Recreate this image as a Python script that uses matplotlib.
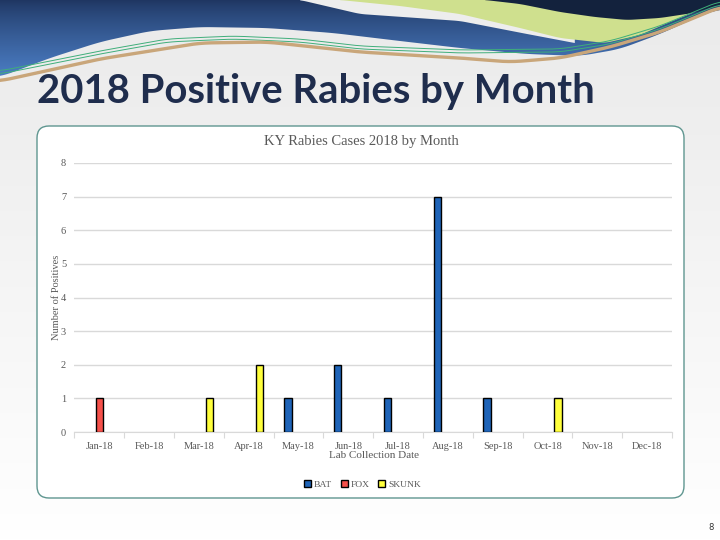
import numpy as np
import matplotlib
matplotlib.use("Agg")
import matplotlib.pyplot as plt
from matplotlib.patches import FancyBboxPatch, Polygon

# --- data -------------------------------------------------------------
months = ["Jan-18", "Feb-18", "Mar-18", "Apr-18", "May-18", "Jun-18",
          "Jul-18", "Aug-18", "Sep-18", "Oct-18", "Nov-18", "Dec-18"]
bat = [0, 0, 0, 0, 1, 2, 1, 7, 1, 0, 0, 0]
fox = [1, 0, 0, 0, 0, 0, 0, 0, 0, 0, 0, 0]
skunk = [0, 0, 1, 2, 0, 0, 0, 0, 0, 1, 0, 0]
series_names = ["BAT", "FOX", "SKUNK"]
series_colors = ["#1f64b8", "#f5504a", "#ffff3c"]

W, H = 720, 540
SERIF = ["Liberation Serif", "DejaVu Serif"]
GREY_TXT = "#595959"

fig = plt.figure(figsize=(W / 100, H / 100), dpi=100)

# --- slide background (pixel coords, y down) ---------------------------
bg = fig.add_axes([0, 0, 1, 1])
bg.set_xlim(0, W)
bg.set_ylim(H, 0)
bg.axis("off")

grad = np.interp(np.linspace(0, H, 256), [0, 120, 540], [0.92, 0.935, 1.0])[:, None] * np.ones((1, 4))
bg.imshow(np.dstack([grad, grad, grad]), extent=(0, W, H, 0), aspect="auto", zorder=0)


def smooth_curve(pts, n=720, k=12):
    xs = np.linspace(0, W, n)
    px, py = zip(*pts)
    ys = np.interp(xs, px, py)
    pad = np.pad(ys, k, mode="edge")
    ys = np.convolve(pad, np.ones(2 * k + 1) / (2 * k + 1), mode="same")[k:-k]
    return xs, ys


# blue wave, vertical gradient
bx, by = smooth_curve([(0, 77), (50, 58), (100, 42), (150, 31), (200, 27), (267, 28),
                       (333, 33), (400, 41), (460, 48), (527, 54), (580, 56),
                       (620, 49), (660, 34), (700, 16), (720, 9)])
blue_poly = Polygon(np.column_stack([np.r_[bx, W, 0], np.r_[by, 0, 0]]),
                    closed=True, facecolor="none", edgecolor="none")
bg.add_patch(blue_poly)
vg = np.linspace(0, 1, 256)[:, None] ** 0.8
blue_img = np.dstack([0.12 + 0.18 * vg, 0.21 + 0.29 * vg, 0.38 + 0.40 * vg])
im = bg.imshow(blue_img, extent=(0, W, 80, 0), aspect="auto", zorder=1)
im.set_clip_path(blue_poly)

# white wedge, lime band, dark navy corner
wx, wy = smooth_curve([(300, 0), (360, 14), (460, 21), (527, 34), (580, 44), (720, 44)], k=6)
sel = (wx >= 300) & (wx <= 575)
bg.add_patch(Polygon(np.column_stack([np.r_[wx[sel], 575, 300], np.r_[wy[sel], 0, 0]]),
                     closed=True, facecolor="#ededed", edgecolor="none", zorder=2))
lx, ly = smooth_curve([(340, 0), (400, 6), (460, 14), (520, 28), (560, 38), (605, 43),
                       (640, 35), (670, 22), (700, 10), (720, 3)], k=6)
sel = lx >= 340
bg.add_patch(Polygon(np.column_stack([np.r_[lx[sel], W, 340], np.r_[ly[sel], 0, 0]]),
                     closed=True, facecolor="#cfe08e", edgecolor="none", zorder=3))
nx, ny = smooth_curve([(485, 0), (520, 4), (560, 12), (595, 17), (627, 20), (660, 18),
                       (693, 13), (720, 5)], k=6)
sel = nx >= 485
bg.add_patch(Polygon(np.column_stack([np.r_[nx[sel], W, 485], np.r_[ny[sel], 0, 0]]),
                     closed=True, facecolor="#13223d", edgecolor="none", zorder=4))

# double green pinstripe and tan stripe
gx, gy = smooth_curve([(0, 71), (100, 51), (167, 39), (233, 36), (300, 39), (360, 46),
                       (460, 50), (560, 49), (610, 41), (660, 26), (720, 1)])
bg.plot(gx, gy, color="#3fae7a", lw=0.7, zorder=5)
bg.plot(gx, gy + 3, color="#3fae7a", lw=0.7, zorder=5)
tx, ty = smooth_curve([(0, 81), (100, 59), (200, 43), (267, 42), (360, 52), (460, 58),
                       (510, 62), (560, 58), (610, 47), (660, 32), (720, 7)])
bg.plot(tx, ty, color="#c9a67a", lw=2.4, zorder=5)

bg.text(37, 91, "2018 Positive Rabies by Month", fontsize=28.8, fontweight="bold",
        family=["Lato", "DejaVu Sans"], color="#1f2d4d", va="center", ha="left", zorder=6)

# chart frame
bg.add_patch(FancyBboxPatch((37, 126), 647, 372, boxstyle="round,pad=0,rounding_size=12",
                            facecolor="white", edgecolor="#5f9690", lw=1.0, zorder=6))
bg.text(361, 142, "KY Rabies Cases 2018 by Month", family=SERIF, fontsize=10.5,
        color=GREY_TXT, ha="center", va="center", zorder=7)
bg.text(711, 527, "8", fontsize=6, color="#333333", ha="center", va="center", zorder=6)

# --- chart ------------------------------------------------------------
ax = fig.add_axes([74.4 / W, (H - 432) / H, 597.6 / W, 269 / H], zorder=10)
ax.patch.set_alpha(0)

x = np.arange(len(months)) + 0.5
offs = [-0.213, 0.0, 0.213]
bw = 0.15
for vals, name, col, off in zip([bat, fox, skunk], series_names, series_colors, offs):
    h = np.array(vals, dtype=float)
    h[h == 0] = np.nan  # empty cells draw nothing
    ax.bar(x + off, h, width=bw, color=col, edgecolor="black", linewidth=1.0,
           label=name, zorder=3)

ax.set_xlim(0, 12)
ax.set_ylim(0, 8)
ax.set_yticks(range(0, 9))
ax.grid(axis="y", color="#d9d9d9", lw=1.0, zorder=0)
for s in ["top", "right", "left"]:
    ax.spines[s].set_visible(False)
ax.spines["bottom"].set_color("#d9d9d9")
ax.tick_params(axis="y", length=0, pad=6, labelsize=7.5, labelcolor=GREY_TXT)

ax.set_xticks(np.arange(0, 13), labels=[""] * 13)
ax.tick_params(axis="x", which="major", length=4, color="#d9d9d9", direction="out")
ax.set_xticks(x, labels=months, minor=True)
ax.tick_params(axis="x", which="minor", length=0, pad=7, labelsize=7.5, labelcolor=GREY_TXT)
for lab in ax.get_xticklabels(minor=True) + ax.get_yticklabels():
    lab.set_family(SERIF)

ax.set_xlabel("Lab Collection Date", family=SERIF, fontsize=8, color=GREY_TXT)
ax.xaxis.set_label_coords(0.502, -0.07)
ax.set_ylabel("Number of Positives", family=SERIF, fontsize=7.5, color=GREY_TXT)
ax.yaxis.set_label_coords(-0.023, 0.5)

ax.legend(loc="center", bbox_to_anchor=(0.482, -0.195), ncol=3, frameon=False,
          prop={"family": SERIF, "size": 6.8}, labelcolor=GREY_TXT,
          handlelength=0.75, handleheight=0.75, handletextpad=0.3, columnspacing=0.9)

fig.savefig("out.png", dpi=100)
